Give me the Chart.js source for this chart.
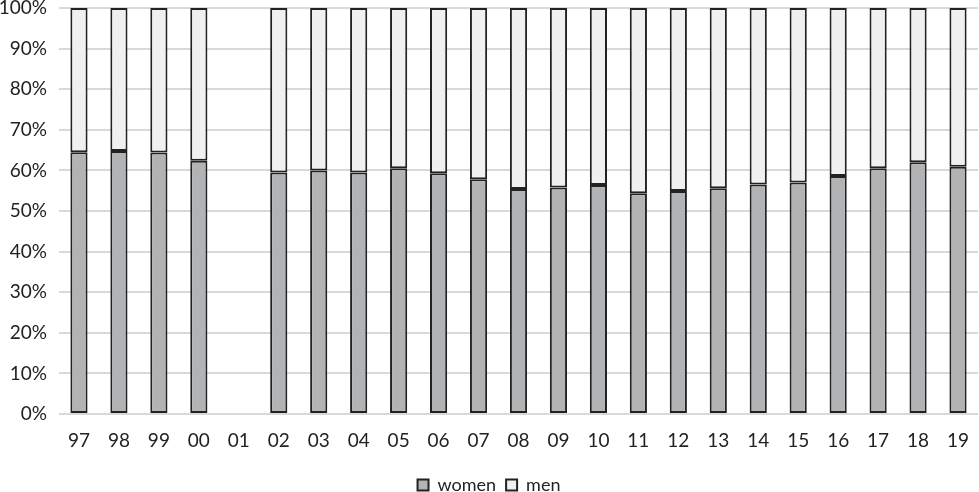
<!DOCTYPE html>
<html>
<head>
<meta charset="utf-8">
<script src="https://cdn.jsdelivr.net/npm/chart.js@4"></script>
<style>
  html, body { margin: 0; padding: 0; background: #fff; }
  #wrap { width: 979px; height: 492px; }
</style>
</head>
<body>
<div id="wrap"><canvas id="myChart" width="979" height="492"></canvas></div>
<script>
let years = ['97', '98', '99', '00', '01', '02', '03', '04', '05', '06', '07', '08',
             '09', '10', '11', '12', '13', '14', '15', '16', '17', '18', '19'];
let women = [64.5, 64.8, 64.4, 62.4, null, 59.5, 60.0, 59.5, 60.5, 59.3, 57.8, 55.4,
             55.8, 56.4, 54.4, 54.9, 55.6, 56.5, 57.0, 58.6, 60.5, 62.0, 60.9];
let men = [35.5, 35.2, 35.6, 37.6, null, 40.5, 40.0, 40.5, 39.5, 40.7, 42.2, 44.6,
           44.2, 43.6, 45.6, 45.1, 44.4, 43.5, 43.0, 41.4, 39.5, 38.0, 39.1];
let yTicks = [0, 10, 20, 30, 40, 50, 60, 70, 80, 90, 100];

Chart.defaults.font.family = 'Lato, "Liberation Sans", sans-serif';
Chart.defaults.color = '#222';

let ctx = document.getElementById('myChart').getContext('2d');
let myChart = new Chart(ctx, {
  type: 'bar',
  data: {
    labels: years,
    datasets: [{
      label: 'women',
      data: women,
      backgroundColor: '#b2b3b4',
      borderColor: '#222',
      borderWidth: 2,
      borderSkipped: false,
      barPercentage: 0.86,
      categoryPercentage: 0.5
    }, {
      label: 'men',
      data: men,
      backgroundColor: '#f0f0f0',
      borderColor: '#222',
      borderWidth: 2,
      borderSkipped: false,
      barPercentage: 0.86,
      categoryPercentage: 0.5
    }]
  },
  options: {
    responsive: false,
    animation: false,
    layout: { padding: { top: 8, right: 1, left: 0, bottom: -12 } },
    plugins: {
      legend: {
        position: 'bottom',
        labels: {
          boxWidth: 11,
          boxHeight: 11,
          padding: 10,
          font: { size: 18 },
          color: '#222'
        }
      },
      tooltip: { enabled: false }
    },
    scales: {
      x: {
        stacked: true,
        grid: { display: false },
        border: { display: false },
        afterFit: (axis) => { axis.height = 52; },
        ticks: { font: { size: 19 }, color: '#222', padding: 7, maxRotation: 0 }
      },
      y: {
        stacked: true,
        min: 0,
        max: 100,
        afterBuildTicks: (axis) => { axis.ticks = yTicks.map(v => ({ value: v })); },
        afterFit: (axis) => { axis.width = 59; axis.paddingTop = 0; axis.paddingBottom = 0; },
        grid: { color: '#d9d9d9', lineWidth: 2, drawTicks: false },
        border: { display: false },
        ticks: {
          font: { size: 19 },
          color: '#222',
          padding: 12,
          callback: (value) => value + '%'
        }
      }
    }
  }
});
</script>
</body>
</html>
